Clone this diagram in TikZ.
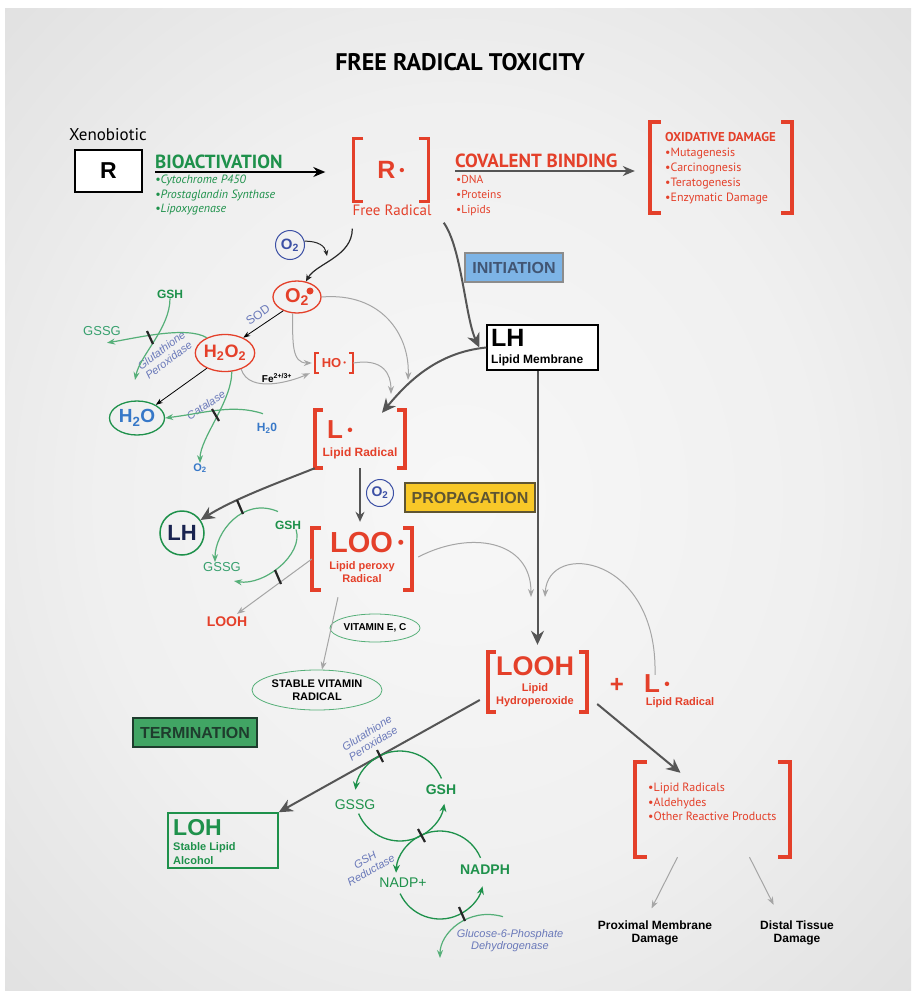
\documentclass[tikz,border=0pt]{standalone}
\usepackage{fontspec}
\setmainfont{Liberation Sans}
\newfontfamily\myriad{PT Sans}
\usetikzlibrary{arrows.meta,shapes.geometric}

\definecolor{frred}{RGB}{228,64,42}
\definecolor{frgreen}{RGB}{30,145,75}
\definecolor{gssggreen}{RGB}{55,160,110}
\definecolor{lightgreen}{RGB}{85,175,120}
\definecolor{oxblue}{RGB}{60,80,165}
\definecolor{waterblue}{RGB}{55,120,200}
\definecolor{enzblue}{RGB}{105,120,185}
\definecolor{darkarrow}{RGB}{85,85,85}
\definecolor{grayarrow}{RGB}{165,165,165}
\definecolor{initblue}{RGB}{125,180,230}
\definecolor{inittext}{RGB}{65,85,115}
\definecolor{propyellow}{RGB}{248,200,40}
\definecolor{proptext}{RGB}{95,85,50}
\definecolor{termgreen}{RGB}{65,165,100}
\definecolor{termtext}{RGB}{30,60,45}
\definecolor{navy}{RGB}{25,35,80}

\newcommand{\fsz}[1]{\fontsize{#1}{#1}\selectfont}
\newcommand{\raddot}{\,\raisebox{0.14em}{\scalebox{0.6}{•}}}
\newcommand{\radbrackets}[3][3.5]{%
  \draw[line width=#1, color=frred] ([xshift=#3]#2.north west) -| (#2.south west) -- ([xshift=#3]#2.south west);
  \draw[line width=#1, color=frred] ([xshift=-#3]#2.north east) -| (#2.south east) -- ([xshift=-#3]#2.south east);
}
\pgfdeclareradialshading{bgglow}{\pgfpoint{0bp}{0bp}}{color(0bp)=(black!3); color(20bp)=(black!6); color(50bp)=(black!17)}

\begin{document}
\begin{tikzpicture}[x=1pt, y=-1pt,
    darrow/.style={line width=2, color=darkarrow, arrows=-{Stealth[length=14pt,width=13pt]}},
    garrow/.style={line width=1, color=grayarrow, arrows=-{Stealth[length=8pt,width=6pt]}},
    karrow/.style={line width=0.8, color=black, arrows=-{Stealth[length=7pt,width=5pt]}},
    grarrow/.style={line width=1.3, color=frgreen, arrows=-{Stealth[length=8pt,width=7pt]}},
    lgarrow/.style={line width=1.2, color=lightgreen, arrows=-{Stealth[length=8pt,width=6pt]}},
    tickmark/.style={line width=2.2, color=black!85},
    enzyme/.style={text=enzblue, font=\itshape\fontsize{11}{12}\selectfont, align=center, inner sep=0},
    phase/.style={draw, line width=1.2, minimum height=29, inner sep=0, font=\bfseries\fsz{16}},
    brakbox/.style={inner sep=0},
    label/.style={inner sep=0}]

    % Background:
    \useasboundingbox (0,0) rectangle (916,996);
    \fill[white] (0,0) rectangle (916,996);
    \shade[shading=bgglow] (5,8) rectangle (911,990);

    % Title:
    \node[font=\myriad\bfseries\fsz{24}] (title) at (460,62) {FREE RADICAL TOXICITY};

    % Bioactivation:
    \node[font=\myriad\fsz{17}] (xeno) at (108,135) {Xenobiotic};
    \node[draw, line width=1.5, fill=white, minimum width=67, minimum height=42, font=\bfseries\fsz{23}] (rbox) at (108.5,171) {R};
    \node[label, anchor=base west, text=frgreen, font=\myriad\bfseries\fsz{19}] (bioact) at (155,168) {BIOACTIVATION};
    \node[label, anchor=north west, text=frgreen, align=left, font=\myriad\itshape\fontsize{12}{14.5}\selectfont] (bioenz) at (155,175) {•Cytochrome P450\\•Prostaglandin Synthase\\•Lipoxygenase};
    \coordinate (bioline) at (155,172);

    % Free radical:
    \node[brakbox, minimum width=75, minimum height=63, text=frred, font=\bfseries\fsz{25}] (rbrak) at (391,170) {R\raddot};
    \node[label, text=frred, font=\myriad\fsz{15}] (rlabel) at (392,210) {Free Radical};

    % Covalent binding:
    \node[label, anchor=base west, text=frred, font=\myriad\bfseries\fsz{19}] (covbind) at (455,167) {COVALENT BINDING};
    \node[label, anchor=north west, text=frred, align=left, font=\myriad\fontsize{11.5}{15}\selectfont] (covlist) at (456,175) {•DNA\\•Proteins\\•Lipids};
    \coordinate (covline) at (455,171);
    \node[brakbox, minimum width=142, minimum height=91] (oxbrak) at (721,167.5) {};
    \node[label, anchor=north west, text=frred, align=left, font=\myriad\fontsize{12}{15}\selectfont] (oxlist) at (665,132) {{\bfseries\fontsize{12.8}{15}\selectfont OXIDATIVE DAMAGE}\\•Mutagenesis\\•Carcinognesis\\•Teratogenesis\\•Enzymatic Damage};

    % Superoxide and peroxide:
    \node[circle, draw=oxblue, line width=1, minimum size=29, inner sep=0, text=oxblue, font=\bfseries\fsz{15}] (otwoa) at (290,245) {O\textsubscript{2}};
    \coordinate (otwomerge) at (327,256);
    \node[ellipse, draw=frred, line width=1.3, minimum width=48, minimum height=32, inner sep=0, text=frred, font=\bfseries\fsz{20}] (supox) at (297,297) {O\textsubscript{2}\hspace{7pt}};
    \fill[color=frred] ([shift={(13,-6)}]supox.center) circle[radius=3.5];
    \node[ellipse, draw=frred, line width=1.3, minimum width=55, minimum height=37, inner sep=0, text=frred, font=\bfseries\fsz{18}] (htwootwo) at (225,353) {H\textsubscript{2}O\textsubscript{2}};
    \node[label, text=frgreen, font=\bfseries\fsz{12}] (gsha) at (170,294) {GSH};
    \node[label, text=gssggreen, font=\fsz{13}] (gssga) at (102,331) {GSSG};
    \coordinate (gpxend) at (135,380);
    \node[ellipse, draw=frgreen, line width=1.3, minimum width=55, minimum height=34, inner sep=0, text=waterblue, font=\bfseries\fsz{19}] (hto) at (137,418) {H\textsubscript{2}O};
    \node[label, text=waterblue, font=\bfseries\fsz{12}] (htwob) at (267,428) {H\textsubscript{2}0};
    \node[label, text=waterblue, font=\bfseries\fsz{11}] (otwob) at (200,468) {O\textsubscript{2}};
    \node[brakbox, minimum width=38, minimum height=20, text=frred, font=\bfseries\fsz{13}] (hobrak) at (334,363) {HO\raddot};
    \node[label, font=\bfseries\fsz{10}] (fe) at (277,378) {Fe\textsuperscript{2+/3+}};
    \coordinate (oxend) at (408,380);
    \coordinate (horad) at (391,394);

    % Enzymes:
    \node[enzyme, font=\fsz{12}, rotate=35] (sod) at (258,315) {SOD};
    \node[enzyme, rotate=37] (gpxa) at (165,355) {Glutathione\\Peroxidase};
    \node[enzyme, rotate=33] (catal) at (206,405) {Catalase};

    % Initiation:
    \node[phase, fill=initblue, draw=black!45, minimum width=98, text=inittext] (init) at (514,267.5) {INITIATION};
    \node[draw, fill=white, line width=1.5, minimum width=111, minimum height=45, inner sep=0] (lhbox) at (542.5,347.5) {};
    \node[label, anchor=north west, font=\bfseries\fsz{25}] (lhbig) at (491,329) {LH};
    \node[label, anchor=south west, font=\bfseries\fsz{12}] (lhsub) at (491,366) {Lipid Membrane};
    \node[brakbox, minimum width=90, minimum height=58] (lrad) at (360,439) {};
    \node[label, text=frred, font=\bfseries\fsz{26}] (lradname) at (340,430) {L\raddot};
    \node[label, text=frred, font=\bfseries\fsz{12}] (lradsub) at (360,453) {Lipid Radical};

    % Propagation:
    \node[circle, draw=oxblue, line width=1, minimum size=27, inner sep=0, text=oxblue, font=\bfseries\fsz{14}] (otwoc) at (380,493) {O\textsubscript{2}};
    \node[phase, fill=propyellow, draw=proptext, minimum width=130, text=proptext] (prop) at (470,497.5) {PROPAGATION};
    \node[circle, draw=frgreen, line width=1.5, minimum size=44, inner sep=0, text=navy, font=\bfseries\fsz{22}] (lhc) at (182,533) {LH};
    \node[label, text=frgreen, font=\bfseries\fsz{12}] (gshb) at (288,525) {GSH};
    \node[label, text=gssggreen, font=\fsz{13}] (gssgb) at (222,567) {GSSG};
    \node[label, text=frred, font=\bfseries\fsz{14}] (loohtxt) at (227,622) {LOOH};
    \node[brakbox, minimum width=100, minimum height=62] (loo) at (362,559) {};
    \node[label, text=frred, font=\bfseries\fsz{29}] (looname) at (367,543) {LOO\raddot};
    \node[label, text=frred, align=center, font=\bfseries\fontsize{11}{13}\selectfont] (loosub) at (362,572) {Lipid peroxy\\Radical};
    \node[ellipse, draw=lightgreen, line width=0.8, minimum width=90, minimum height=28, inner sep=0, font=\bfseries\fsz{10}] (vite) at (375,628) {VITAMIN E, C};
    \node[ellipse, draw=lightgreen, line width=0.8, minimum width=130, minimum height=40, inner sep=0, align=center, font=\bfseries\fontsize{11}{13}\selectfont] (svr) at (317,690) {STABLE VITAMIN\\RADICAL};
    \coordinate (propin1) at (531,597);
    \coordinate (propin2) at (545,597);

    % Lipid hydroperoxide:
    \node[brakbox, minimum width=99, minimum height=60] (looh) at (537.5,682) {};
    \node[label, text=frred, font=\bfseries\fsz{27}] (loohname) at (535,666) {LOOH};
    \node[label, text=frred, align=center, font=\bfseries\fontsize{11}{13.5}\selectfont] (loohsub) at (535,695) {Lipid\\Hydroperoxide};
    \node[label, text=frred, font=\bfseries\fsz{24}] (plus) at (617,685) {+};
    \node[label, text=frred, font=\bfseries\fsz{26}] (lradb) at (657,684) {L\raddot};
    \node[label, text=frred, font=\bfseries\fsz{11}] (lradbsub) at (680,703) {Lipid Radical};

    % Termination:
    \node[phase, fill=termgreen, draw=termtext, minimum width=124, text=termtext] (term) at (195,732.5) {TERMINATION};
    \node[draw=frgreen, line width=1.5, minimum width=110, minimum height=55, inner sep=0] (lohbox) at (223,840.5) {};
    \node[label, anchor=north west, text=frgreen, font=\bfseries\fsz{23}] (lohbig) at (173,819) {LOH};
    \node[label, anchor=north west, text=frgreen, align=left, font=\bfseries\fontsize{11}{14}\selectfont] (lohsub) at (173,842) {Stable Lipid\\Alcohol};
    \coordinate (cyca) at (400,796);
    \coordinate (cycb) at (440,875);
    \node[label, text=frgreen, font=\fsz{14}] (gssgc) at (355,805) {GSSG};
    \node[label, text=frgreen, font=\bfseries\fsz{14}] (gshc) at (441,790) {GSH};
    \node[label, text=frgreen, font=\fsz{14}] (nadpp) at (403,883) {NADP+};
    \node[label, text=frgreen, font=\bfseries\fsz{14}] (nadph) at (485,870) {NADPH};
    \node[enzyme, rotate=32] (gpxb) at (370,738) {Glutathione\\Peroxidase};
    \node[enzyme, rotate=30] (gshred) at (368,865) {GSH\\Reductase};
    \node[enzyme] (g6pd) at (510,941) {Glucose-6-Phosphate\\Dehydrogenase};
    \coordinate (g6pdend) at (440,958);

    % Products:
    \node[brakbox, minimum width=155, minimum height=95] (prodbrak) at (712.5,809.5) {};
    \node[label, anchor=north west, text=frred, align=left, font=\myriad\fontsize{12}{14.5}\selectfont] (prodlist) at (648,783) {•Lipid Radicals\\•Aldehydes\\•Other Reactive Products};
    \node[align=center, font=\bfseries\fontsize{12}{13}\selectfont] (proxdmg) at (655,933) {Proximal Membrane\\Damage};
    \node[align=center, font=\bfseries\fontsize{12}{13}\selectfont] (distdmg) at (797,933) {Distal Tissue\\Damage};

    % Brackets:
    \radbrackets{rbrak}{10}
    \radbrackets{oxbrak}{11}
    \radbrackets[2]{hobrak}{4}
    \radbrackets{lrad}{8}
    \radbrackets[4]{loo}{9}
    \radbrackets{looh}{8}
    \radbrackets[4]{prodbrak}{12}

    % Activation arrows:
    \draw[line width=1.5, color=black, arrows=-{Stealth[length=12pt,width=10pt]}, shorten >=28] (bioline) -- (bioline -| rbrak.west);
    \draw[line width=1.5, color=darkarrow, arrows=-{Stealth[length=12pt,width=10pt]}, shorten >=15] (covline) -- (covline -| oxbrak.west);

    % Superoxide arrows:
    \draw[line width=1.2, color=black!85, arrows=-{Stealth[length=7pt,width=6pt]}] ([shift={(-1,27)}]rbrak.south west) .. controls +(0,28) and +(10,-18) .. (supox.60);
    \draw[line width=1, color=black!85, arrows=-{Stealth[length=6pt,width=5pt]}] (otwoa.15) .. controls +(14,0) and +(-2,-10) .. (otwomerge);
    \draw[karrow] (supox.225) -- (htwootwo.40);
    \draw[karrow] (htwootwo.220) -- (hto.35);
    \draw[lgarrow] (gsha.south) .. controls +(0,30) and +(5,-25) .. (gpxend);
    \draw[lgarrow] (htwootwo.140) .. controls +(-20,-12) and +(30,-5) .. ([shift={(5,7)}]gssga.south);
    \draw[lgarrow] (htwootwo.290) .. controls +(0,30) and +(0,-25) .. (otwob.north);
    \draw[lgarrow] ([shift={(-4,-9)}]htwob.north) .. controls +(-30,-10) and +(40,-5) .. (hto.east);
    \draw[garrow] (supox.255) .. controls +(0,30) and +(-20,0) .. ([xshift=-3]hobrak.west);
    \draw[garrow] (htwootwo.315) .. controls +(8,25) and +(-18,8) .. ([xshift=-5]hobrak.south west);
    \draw[garrow] (supox.east) .. controls +(60,-5) and +(2,-45) .. (oxend);
    \draw[garrow] (hobrak.east) .. controls +(30,-5) and +(0,-20) .. (horad);

    % Initiation arrows:
    \draw[darrow] ([shift={(15,21)}]rbrak.south east) .. controls +(18,25) and +(-14,-30) .. ([xshift=-7]lhbox.west);
    \draw[darrow] (lhbox.west) .. controls +(-50,5) and +(25,-30) .. ([shift={(22,3)}]lrad.north);
    \draw[darrow, shorten >=7] ([xshift=-5]lhbox.south) -- ([xshift=-5]lhbox.south |- looh.north);

    % Propagation arrows:
    \draw[darrow, line width=1.5, arrows=-{Stealth[length=10pt,width=9pt]}, shorten >=6] (lrad.south) -- (lrad.south |- loo.north);
    \draw[darrow] (lrad.south west) .. controls +(-30,12) and +(35,-22) .. (lhc.35);
    \draw[lgarrow] ([shift={(-10,-9)}]gshb.north) .. controls +(-35,-15) and +(0,-30) .. ([xshift=-7]gssgb.north);
    \draw[lgarrow] ([xshift=8]gshb.south) .. controls +(8,25) and +(30,5) .. ([shift={(12,14)}]gssgb.center);
    \draw[garrow, shorten >=5] (loo.west) -- ([xshift=6]loohtxt.north);
    \draw[garrow] ([shift={(-24,7)}]loo.south) -- ([xshift=5]svr.north);
    \draw[garrow] ([shift={(6,-2)}]loo.east) .. controls +(52,-27) and +(0,-57) .. (propin1);
    \draw[garrow] ([xshift=-2]lradb.north) .. controls +(3,-120) and +(3,-57) .. (propin2);

    % Termination arrows:
    \draw[darrow] ([shift={(-8,18)}]looh.west) -- (lohbox.north east);
    \draw[darrow] ([shift={(10,22)}]looh.east) -- ([shift={(-32,11)}]prodbrak.north);
    \draw[garrow, shorten >=10] ([xshift=-35]prodbrak.south) -- ([xshift=-8]proxdmg.north);
    \draw[garrow, shorten >=14] ([xshift=37]prodbrak.south) -- ([xshift=-17]distdmg.north);

    % Glutathione cycle:
    \draw[grarrow] ([shift={(-23:45)}]cyca) arc[start angle=-23, end angle=-172, radius=45];
    \draw[grarrow] ([shift={(157:45)}]cyca) arc[start angle=157, end angle=10, radius=45];
    \draw[grarrow] ([shift={(-23:44)}]cycb) arc[start angle=-23, end angle=-177, radius=44];
    \draw[grarrow] ([shift={(155:44)}]cycb) arc[start angle=155, end angle=15, radius=44];
    \draw[lgarrow] ([shift={(-7,-13)}]g6pd.north) .. controls +(-35,-10) and +(0,-25) .. (g6pdend);

    % Ticks:
    \foreach \xa/\ya/\xb/\yb in {147/331/153/344, 212/409/219/421, 237/500/243/514, 275/570/281/584, 377/750/383/762, 418/829/425/842, 459/907/465/921}
        \draw[tickmark] (\xa,\ya) -- (\xb,\yb);
\end{tikzpicture}
\end{document}
